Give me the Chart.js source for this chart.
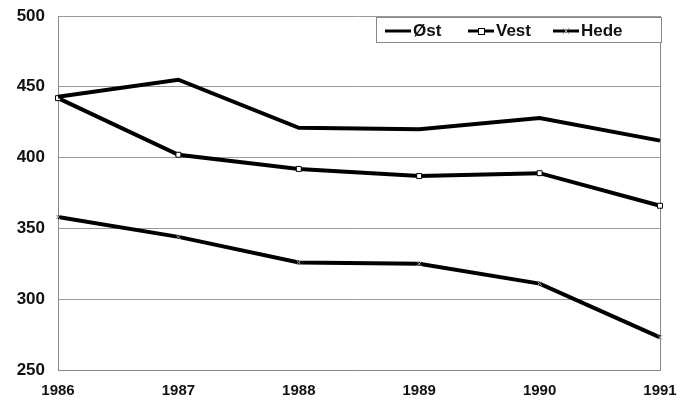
<!DOCTYPE html>
<html>
<head>
<meta charset="utf-8">
<script src="https://cdn.jsdelivr.net/npm/chart.js@4.4.1/dist/chart.umd.min.js"></script>
<style>
  html, body { margin: 0; padding: 0; background: #fff; overflow: hidden; }
  #chart { display: block; }
</style>
</head>
<body>
<canvas id="chart" width="680" height="401"></canvas>
<script>
const years = ['1986', '1987', '1988', '1989', '1990', '1991'];
const ost = [443, 455, 421, 420, 428, 412];
const vest = [442, 402, 392, 387, 389, 366];
const hede = [358, 344, 326, 325, 311, 273];

const FONT = "'Liberation Sans', Arial, sans-serif";

// legend drawn inside the plot, top right, with a white box
const boxLegend = {
    id: 'boxLegend',
    afterDraw(chart) {
        const ctx = chart.ctx;
        const area = chart.chartArea;
        const right = area.right + 2;
        const left = right - 286;
        const top = area.top + 1;
        const h = 26;
        ctx.save();
        ctx.fillStyle = '#fff';
        ctx.fillRect(left, top, right - left, h);
        ctx.strokeStyle = '#888';
        ctx.lineWidth = 1;
        ctx.strokeRect(left + 0.5, top + 0.5, right - left - 1, h - 1);

        const starts = [left + 9, left + 92, left + 177];
        const cy = top + h / 2 + 1;
        ctx.font = 'bold 17px ' + FONT;
        ctx.textBaseline = 'middle';
        chart.data.datasets.forEach((ds, i) => {
            const x0 = starts[i];
            ctx.strokeStyle = '#000';
            ctx.lineWidth = 3;
            ctx.beginPath();
            ctx.moveTo(x0, cy);
            ctx.lineTo(x0 + 26, cy);
            ctx.stroke();
            if (ds.pointStyle === 'rect') {
                ctx.fillStyle = '#fff';
                ctx.strokeStyle = '#000';
                ctx.lineWidth = 1;
                ctx.fillRect(x0 + 10, cy - 3, 7, 7);
                ctx.strokeRect(x0 + 10.5, cy - 2.5, 6, 6);
            } else if (ds.pointStyle === 'crossRot') {
                ctx.strokeStyle = '#999';
                ctx.lineWidth = 1;
                ctx.beginPath();
                ctx.moveTo(x0 + 10, cy - 3); ctx.lineTo(x0 + 16, cy + 3);
                ctx.moveTo(x0 + 16, cy - 3); ctx.lineTo(x0 + 10, cy + 3);
                ctx.stroke();
            }
            ctx.fillStyle = '#111';
            ctx.fillText(ds.label, x0 + 28, cy);
        });
        ctx.restore();
    }
};

const ctx = document.getElementById('chart').getContext('2d');
const chart = new Chart(ctx, {
    type: 'line',
    data: {
        labels: years,
        datasets: [
            {
                label: 'Øst',
                data: ost,
                borderColor: '#000',
                borderWidth: 4,
                pointRadius: 0,
                tension: 0
            },
            {
                label: 'Vest',
                data: vest,
                borderColor: '#000',
                borderWidth: 4,
                pointStyle: 'rect',
                pointRadius: 3.5,
                pointBackgroundColor: '#fff',
                pointBorderColor: '#000',
                pointBorderWidth: 1,
                tension: 0
            },
            {
                label: 'Hede',
                data: hede,
                borderColor: '#000',
                borderWidth: 4,
                pointStyle: 'crossRot',
                pointRadius: 3,
                pointBorderColor: '#999',
                pointBorderWidth: 1,
                tension: 0
            }
        ]
    },
    options: {
        responsive: false,
        animation: false,
        layout: { padding: { top: 16, right: 20, left: 0, bottom: 0 } },
        plugins: {
            legend: { display: false },
            tooltip: { enabled: false }
        },
        scales: {
            x: {
                offset: false,
                grid: {
                    drawTicks: false,
                    color: (c) => (c.index === years.length - 1 ? '#888' : 'rgba(0,0,0,0)'),
                    lineWidth: 1
                },
                border: { color: '#888', width: 1 },
                ticks: {
                    color: '#111',
                    padding: 12,
                    maxRotation: 0,
                    font: { family: FONT, size: 15, weight: 'bold' }
                },
                afterFit: (scale) => {
                    scale.height = 31;
                    scale.paddingLeft = 0;
                    scale.paddingRight = 0;
                }
            },
            y: {
                min: 250,
                max: 500,
                ticks: {
                    stepSize: 50,
                    color: '#111',
                    padding: 13,
                    font: { family: FONT, size: 17, weight: 'bold' }
                },
                grid: { color: '#999', lineWidth: 1, drawTicks: false },
                border: { color: '#888', width: 1 },
                afterFit: (scale) => {
                    scale.width = 58;
                    scale.paddingTop = 0;
                    scale.paddingBottom = 0;
                }
            }
        }
    },
    plugins: [boxLegend]
});
</script>
</body>
</html>
